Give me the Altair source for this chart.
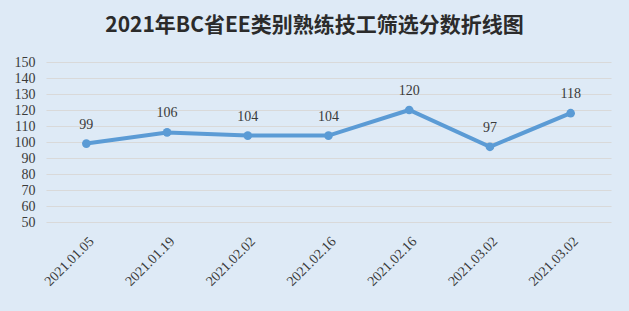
import altair as alt
import pandas as pd

dates = ["2021.01.05", "2021.01.19", "2021.02.02", "2021.02.16", "2021.02.16", "2021.03.02", "2021.03.02"]
scores = [99, 106, 104, 104, 120, 97, 118]
y_ticks = [50, 60, 70, 80, 90, 100, 110, 120, 130, 140, 150]

df = pd.DataFrame({"idx": list(range(len(dates))), "date": dates, "score": scores})

label_map = "[" + ",".join('"%s"' % d for d in dates) + "]"

BG = "#DEEAF6"
BLUE = "#5B9BD5"
SERIF = "Liberation Serif"

x = alt.X("idx:O", title=None,
          axis=alt.Axis(labelExpr=label_map + "[datum.value]", labelAngle=-45,
                        labelFont=SERIF, labelFontSize=14, labelColor="#3A3A3A",
                        labelPadding=12, ticks=False, domain=False, grid=False))
y = alt.Y("score:Q", title=None,
          scale=alt.Scale(domain=[50, 150], nice=False, zero=False),
          axis=alt.Axis(values=y_ticks, labelFont=SERIF, labelFontSize=14, labelColor="#3A3A3A",
                        labelPadding=11, ticks=False, domain=False,
                        gridColor="#D9D9D9", gridWidth=1))

base = alt.Chart(df)
line = base.mark_line(color=BLUE, strokeWidth=4).encode(x=x, y=y)
pts = base.mark_point(filled=True, size=75, color=BLUE, opacity=1).encode(x=x, y=y)
txt = base.mark_text(font=SERIF, fontSize=14, color="#3A3A3A", baseline="bottom", dy=-12).encode(
    x=x, y=y, text="score:Q")

chart = (line + pts + txt).properties(
    width=565, height=160,
    title=alt.TitleParams("2021年BC省EE类别熟练技工筛选分数折线图", font="Noto Sans CJK SC",
                          fontSize=21, fontWeight="bold", color="#2B2B2B",
                          anchor="middle", offset=19, dx=-14),
    background=BG,
    padding={"left": 46, "top": 62, "right": 18, "bottom": 89},
    autosize=alt.AutoSizeParams(type="none"),
).configure_view(stroke=None, fill=BG)

chart.save("out.html", embed_options={"renderer": "svg", "actions": False})
